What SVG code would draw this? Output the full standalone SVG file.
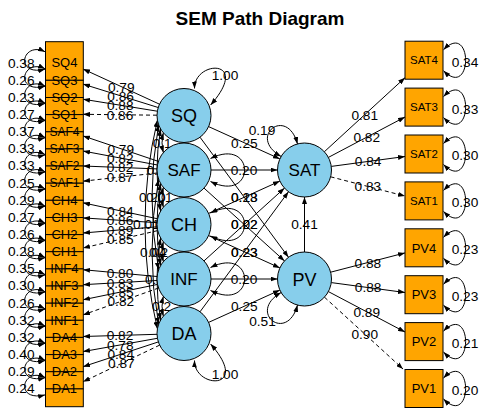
<svg xmlns="http://www.w3.org/2000/svg" width="485" height="413" viewBox="0 0 485 413">
<defs>
<marker id="ar" viewBox="0 0 7 5" refX="7" refY="2.5" markerWidth="7" markerHeight="5" markerUnits="userSpaceOnUse" orient="auto-start-reverse"><path d="M0,0 L7,2.5 L0,5 z" fill="#000"/></marker>
</defs>
<style>
.e{stroke:#000;stroke-width:1;fill:none;marker-end:url(#ar)}
.b{marker-start:url(#ar)}
.d{stroke-dasharray:4 3}
.t{font-family:'Liberation Sans',Arial,sans-serif;font-size:13.7px;fill:#000;text-anchor:middle}
.s{text-anchor:start}
.bx{fill:#FFA500;stroke:#000;stroke-width:1}
.lt{fill:#87CEEB;stroke:#000;stroke-width:1}
.nl{font-family:'Liberation Sans',Arial,sans-serif;fill:#000;text-anchor:middle}
</style>
<rect width="485" height="413" fill="#fff"/>
<text x="260" y="25" font-family="'Liberation Sans',Arial,sans-serif" font-size="19" font-weight="bold" text-anchor="middle">SEM Path Diagram</text>
<g id="connectors">
<!-- left residual loops -->
<path class="e b" d="M45,51.7 C22,40.7 14,76.7 45,69.2"/>
<path class="e b" d="M45,68.8 C22,57.8 14,93.8 45,86.3"/>
<path class="e b" d="M45,86 C22,75 14,111 45,103.5"/>
<path class="e b" d="M45,103.1 C22,92.1 14,128.1 45,120.6"/>
<path class="e b" d="M45,120.3 C22,109.3 14,145.3 45,137.8"/>
<path class="e b" d="M45,137.4 C22,126.4 14,162.4 45,154.9"/>
<path class="e b" d="M45,154.5 C22,143.5 14,179.5 45,172"/>
<path class="e b" d="M45,171.7 C22,160.7 14,196.7 45,189.2"/>
<path class="e b" d="M45,188.8 C22,177.8 14,213.8 45,206.3"/>
<path class="e b" d="M45,206 C22,195 14,231 45,223.5"/>
<path class="e b" d="M45,223.1 C22,212.1 14,248.1 45,240.6"/>
<path class="e b" d="M45,240.2 C22,229.2 14,265.2 45,257.7"/>
<path class="e b" d="M45,257.4 C22,246.4 14,282.4 45,274.9"/>
<path class="e b" d="M45,274.5 C22,263.5 14,299.5 45,292"/>
<path class="e b" d="M45,291.7 C22,280.7 14,316.7 45,309.2"/>
<path class="e b" d="M45,308.8 C22,297.8 14,333.8 45,326.3"/>
<path class="e b" d="M45,325.9 C22,314.9 14,350.9 45,343.4"/>
<path class="e b" d="M45,343.1 C22,332.1 14,368.1 45,360.6"/>
<path class="e b" d="M45,360.2 C22,349.2 14,385.2 45,377.7"/>
<path class="e b" d="M45,377.4 C22,366.4 14,402.4 45,394.9"/>
<g class="t">
<text x="21.2" y="67.6">0.38</text><text x="21.2" y="84.7">0.26</text><text x="21.2" y="101.9">0.23</text><text x="21.2" y="119">0.27</text>
<text x="21.2" y="136.2">0.37</text><text x="21.2" y="153.3">0.33</text><text x="21.2" y="170.4">0.33</text><text x="21.2" y="187.6">0.25</text>
<text x="21.2" y="204.7">0.29</text><text x="21.2" y="221.9">0.27</text><text x="21.2" y="239">0.26</text><text x="21.2" y="256.1">0.28</text>
<text x="21.2" y="273.3">0.35</text><text x="21.2" y="290.4">0.30</text><text x="21.2" y="307.6">0.26</text><text x="21.2" y="324.7">0.32</text>
<text x="21.2" y="341.8">0.32</text><text x="21.2" y="359">0.40</text><text x="21.2" y="376.1">0.29</text><text x="21.2" y="393.3">0.24</text>
</g>
<!-- left loadings -->
<path class="e" d="M159.5,104.2 L83,69"/>
<path class="e" d="M158.2,107.5 L83,84.1"/>
<path class="e" d="M157.3,111.2 L83,99.2"/>
<path class="e d" d="M157,115.2 L83,114.3"/>
<path class="e" d="M158.4,161.4 L83,135.9"/>
<path class="e" d="M157.5,165 L83,151"/>
<path class="e" d="M157,168.9 L83,166"/>
<path class="e d" d="M157.2,173 L83,181.2"/>
<path class="e" d="M157.6,218.8 L83,202.8"/>
<path class="e" d="M157.1,222.7 L83,217.9"/>
<path class="e" d="M157.1,226.8 L83,233"/>
<path class="e d" d="M157.7,230.6 L83,248"/>
<path class="e" d="M157.1,276.5 L83,269.7"/>
<path class="e" d="M157,280.5 L83,284.7"/>
<path class="e" d="M157.6,284.4 L83,299.8"/>
<path class="e d" d="M158.6,288 L83,314.9"/>
<path class="e" d="M157,334.3 L83,336.5"/>
<path class="e" d="M157.4,338.3 L83,351.6"/>
<path class="e" d="M158.4,341.9 L83,366.7"/>
<path class="e d" d="M159.7,345.1 L83,381.8"/>
<g class="t">
<text x="121.2" y="91.5">0.79</text><text x="120.6" y="100.7">0.86</text><text x="120.2" y="110.1">0.88</text><text x="120" y="119.6">0.86</text>
<text x="120.7" y="153.5">0.79</text><text x="120.2" y="162.9">0.82</text><text x="120" y="172.4">0.82</text><text x="120.1" y="182">0.87</text>
<text x="120.3" y="215.7">0.84</text><text x="120" y="225.2">0.86</text><text x="120" y="234.8">0.89</text><text x="120.3" y="244.2">0.85</text>
<text x="120" y="278">0.80</text><text x="120" y="287.5">0.83</text><text x="120.3" y="297">0.85</text><text x="120.8" y="306.4">0.82</text>
<text x="120" y="340.3">0.82</text><text x="120.2" y="349.9">0.78</text><text x="120.7" y="359.2">0.84</text><text x="121.3" y="368.3">0.87</text>
</g>
<!-- covariances among exogenous latents -->
<path class="e b" d="M163.3,132.9 Q160.7,142.75 163.3,152.6"/>
<path class="e b" d="M163.3,187.4 Q160.7,197.25 163.3,207.1"/>
<path class="e b" d="M163.3,241.9 Q160.7,251.75 163.3,261.6"/>
<path class="e b" d="M163.3,296.4 Q160.7,306.25 163.3,316.1"/>
<path class="e b" d="M160.6,129 Q153.4,170 160.6,211"/>
<path class="e b" d="M160.6,183.5 Q153.4,224.5 160.6,265.5"/>
<path class="e b" d="M160.6,238 Q153.4,279 160.6,320"/>
<path class="e b" d="M158.6,124.7 Q145.4,197.25 158.6,269.8"/>
<path class="e b" d="M158.6,179.2 Q145.4,251.75 158.6,324.3"/>
<path class="e b" d="M157.4,120.2 Q132.6,224.5 157.4,328.8"/>
<g class="t s">
<text x="152.7" y="148">0.1</text>
<text x="146.5" y="175">0.</text>
<text x="139" y="202.2">0.20</text>
<text x="146" y="202.2">0.01</text>
<text x="133" y="229.4">0.01</text>
<text x="140" y="256.7">0.04</text>
<text x="149" y="256.7">0.2</text>
<text x="145" y="283.9">0.</text>
<text x="152" y="311.1">0.2</text>
</g>
<!-- latent variance loops -->
<path class="e b" d="M194.5,88.5 C194,60 252,58 210.6,105"/>
<path class="e b" d="M194.5,360.5 C194,389 252,391 210.6,344"/>
<path class="e b" d="M210.5,158.5 C256,136 256,204 210.5,181.5"/>
<path class="e b" d="M210.5,213 C256,190.5 256,258.5 210.5,236"/>
<path class="e b" d="M210.5,267.5 C256,245 256,313 210.5,290.5"/>
<!-- structural paths -->
<path class="e" d="M208.6,126.6 L279.9,158.9"/>
<path class="e" d="M211,170 L277.5,170"/>
<path class="e" d="M208.6,213.4 L279.9,181.1"/>
<path class="e" d="M204,260.9 L284.5,188.1"/>
<path class="e" d="M200,311.8 L288.5,191.7"/>
<path class="e" d="M200,137.2 L288.5,257.3"/>
<path class="e" d="M204,188.1 L284.5,260.9"/>
<path class="e" d="M208.6,235.6 L279.9,267.9"/>
<path class="e" d="M211,279 L277.5,279"/>
<path class="e" d="M208.6,322.4 L279.9,290.1"/>
<path class="e" d="M304.5,252 L304.5,197"/>
<!-- endogenous residual loops -->
<path class="e b" d="M297.5,143.9 C287.1,105.3 246.5,136.5 281.1,156.5"/>
<path class="e b" d="M297.5,305.1 C287.1,343.7 246.5,312.5 281.1,292.5"/>
<g class="t">
<text x="225" y="79.9">1.00</text>
<text x="225" y="378.9">1.00</text>
<text x="244.3" y="147.7">0.25</text>
<text x="244" y="174.9">0.20</text>
<text x="244.3" y="202.2">0.28</text>
<text x="244.3" y="229.4">0.02</text>
<text x="244.3" y="256.7">0.23</text>
<text x="244.3" y="202.2">0.13</text>
<text x="244.3" y="229.4">0.22</text>
<text x="244.3" y="256.7">0.23</text>
<text x="244" y="283.9">0.20</text>
<text x="244.3" y="311.1">0.25</text>
<text x="304.5" y="229.4">0.41</text>
<text x="262" y="134.9">0.19</text>
<text x="262.5" y="326">0.51</text>
</g>
<!-- right loadings -->
<path class="e" d="M324.4,151.7 L405,77.7"/>
<path class="e" d="M328.4,157.4 L405,117"/>
<path class="e" d="M331.3,166.4 L405,156.5"/>
<path class="e d" d="M330.6,176.8 L405,196.1"/>
<path class="e" d="M330.6,272.2 L405,252.9"/>
<path class="e" d="M331.3,282.6 L405,292.5"/>
<path class="e" d="M328.4,291.6 L405,332"/>
<path class="e d" d="M324.5,297.2 L403,369"/>
<g class="t">
<text x="364.7" y="119.5">0.81</text><text x="366.7" y="142.1">0.82</text><text x="368.1" y="166.3">0.84</text><text x="367.8" y="191.4">0.83</text>
<text x="367.8" y="267.5">0.88</text><text x="368.1" y="292.4">0.88</text><text x="366.7" y="316.7">0.89</text><text x="364.7" y="338.9">0.90</text>
</g>
<!-- right residual loops -->
<path class="e b" d="M443.5,49.7 C473,20.2 473,100.2 443.5,70.7"/>
<path class="e b" d="M443.5,96.6 C473,67.1 473,147.1 443.5,117.6"/>
<path class="e b" d="M443.5,143.5 C473,114 473,194 443.5,164.5"/>
<path class="e b" d="M443.5,190.4 C473,160.9 473,240.9 443.5,211.4"/>
<path class="e b" d="M443.5,237.3 C473,207.8 473,287.8 443.5,258.3"/>
<path class="e b" d="M443.5,284.2 C473,254.7 473,334.7 443.5,305.2"/>
<path class="e b" d="M443.5,331.1 C473,301.6 473,381.6 443.5,352.1"/>
<path class="e b" d="M443.5,378 C473,348.5 473,428.5 443.5,399"/>
<g class="t">
<text x="465" y="66.6">0.34</text><text x="465" y="113.5">0.33</text><text x="465" y="160.4">0.30</text><text x="465" y="207.3">0.30</text>
<text x="465" y="254.2">0.23</text><text x="465" y="301.1">0.23</text><text x="465" y="348">0.21</text><text x="465" y="394.9">0.20</text>
</g>
</g>
<!-- left indicator nodes -->
<g id="SQ4"><rect class="bx" x="45.5" y="41.7" width="37.8" height="38.6"/><text class="nl" x="64.4" y="67.4" font-size="13">SQ4</text></g>
<g id="SQ3"><rect class="bx" x="45.5" y="80.3" width="37.8" height="17.2"/><text class="nl" x="64.4" y="84.5" font-size="13">SQ3</text></g>
<g id="SQ2"><rect class="bx" x="45.5" y="97.5" width="37.8" height="17.1"/><text class="nl" x="64.4" y="101.7" font-size="13">SQ2</text></g>
<g id="SQ1"><rect class="bx" x="45.5" y="114.6" width="37.8" height="17.2"/><text class="nl" x="64.4" y="118.8" font-size="13">SQ1</text></g>
<g id="SAF4"><rect class="bx" x="45.5" y="131.8" width="37.8" height="17.1"/><text class="nl" x="64.4" y="136" font-size="12">SAF4</text></g>
<g id="SAF3"><rect class="bx" x="45.5" y="148.9" width="37.8" height="17.1"/><text class="nl" x="64.4" y="153.1" font-size="12">SAF3</text></g>
<g id="SAF2"><rect class="bx" x="45.5" y="166" width="37.8" height="17.2"/><text class="nl" x="64.4" y="170.2" font-size="12">SAF2</text></g>
<g id="SAF1"><rect class="bx" x="45.5" y="183.2" width="37.8" height="17.1"/><text class="nl" x="64.4" y="187.4" font-size="12">SAF1</text></g>
<g id="CH4"><rect class="bx" x="45.5" y="200.3" width="37.8" height="17.2"/><text class="nl" x="64.4" y="204.5" font-size="13">CH4</text></g>
<g id="CH3"><rect class="bx" x="45.5" y="217.5" width="37.8" height="17.1"/><text class="nl" x="64.4" y="221.7" font-size="13">CH3</text></g>
<g id="CH2"><rect class="bx" x="45.5" y="234.6" width="37.8" height="17.1"/><text class="nl" x="64.4" y="238.8" font-size="13">CH2</text></g>
<g id="CH1"><rect class="bx" x="45.5" y="251.7" width="37.8" height="17.2"/><text class="nl" x="64.4" y="255.9" font-size="13">CH1</text></g>
<g id="INF4"><rect class="bx" x="45.5" y="268.9" width="37.8" height="17.1"/><text class="nl" x="64.4" y="273.1" font-size="13">INF4</text></g>
<g id="INF3"><rect class="bx" x="45.5" y="286" width="37.8" height="17.2"/><text class="nl" x="64.4" y="290.2" font-size="13">INF3</text></g>
<g id="INF2"><rect class="bx" x="45.5" y="303.2" width="37.8" height="17.1"/><text class="nl" x="64.4" y="307.4" font-size="13">INF2</text></g>
<g id="INF1"><rect class="bx" x="45.5" y="320.3" width="37.8" height="17.1"/><text class="nl" x="64.4" y="324.5" font-size="13">INF1</text></g>
<g id="DA4"><rect class="bx" x="45.5" y="337.4" width="37.8" height="17.2"/><text class="nl" x="64.4" y="341.6" font-size="13">DA4</text></g>
<g id="DA3"><rect class="bx" x="45.5" y="354.6" width="37.8" height="17.1"/><text class="nl" x="64.4" y="358.8" font-size="13">DA3</text></g>
<g id="DA2"><rect class="bx" x="45.5" y="371.7" width="37.8" height="17.2"/><text class="nl" x="64.4" y="375.9" font-size="13">DA2</text></g>
<g id="DA1"><rect class="bx" x="45.5" y="388.9" width="37.8" height="17.8"/><text class="nl" x="64.4" y="393.1" font-size="13">DA1</text></g>
<!-- latent nodes -->
<g id="SQ"><circle class="lt" cx="184" cy="115.5" r="27"/><text class="nl" x="184" y="122" font-size="18">SQ</text></g>
<g id="SAF"><circle class="lt" cx="184" cy="170" r="27"/><text class="nl" x="184" y="176.2" font-size="17">SAF</text></g>
<g id="CH"><circle class="lt" cx="184" cy="224.5" r="27"/><text class="nl" x="184" y="231" font-size="18">CH</text></g>
<g id="INF"><circle class="lt" cx="184" cy="279" r="27"/><text class="nl" x="184" y="285.2" font-size="17">INF</text></g>
<g id="DA"><circle class="lt" cx="184" cy="333.5" r="27"/><text class="nl" x="184" y="340" font-size="18">DA</text></g>
<g id="SAT"><circle class="lt" cx="304.5" cy="170" r="27"/><text class="nl" x="304.5" y="176.2" font-size="17">SAT</text></g>
<g id="PV"><circle class="lt" cx="304.5" cy="279" r="27"/><text class="nl" x="304.5" y="285.5" font-size="18">PV</text></g>
<!-- right indicator nodes -->
<g id="SAT4"><rect class="bx" x="405" y="41.2" width="38" height="38"/><text class="nl" x="424" y="64.3" font-size="11.5">SAT4</text></g>
<g id="SAT3"><rect class="bx" x="405" y="88.1" width="38" height="38"/><text class="nl" x="424" y="111.2" font-size="11.5">SAT3</text></g>
<g id="SAT2"><rect class="bx" x="405" y="135" width="38" height="38"/><text class="nl" x="424" y="158.1" font-size="11.5">SAT2</text></g>
<g id="SAT1"><rect class="bx" x="405" y="181.9" width="38" height="38"/><text class="nl" x="424" y="205" font-size="11.5">SAT1</text></g>
<g id="PV4"><rect class="bx" x="405" y="228.8" width="38" height="38"/><text class="nl" x="424" y="252.5" font-size="13">PV4</text></g>
<g id="PV3"><rect class="bx" x="405" y="275.7" width="38" height="38"/><text class="nl" x="424" y="299.4" font-size="13">PV3</text></g>
<g id="PV2"><rect class="bx" x="405" y="322.6" width="38" height="38"/><text class="nl" x="424" y="346.3" font-size="13">PV2</text></g>
<g id="PV1"><rect class="bx" x="405" y="369.5" width="38" height="38"/><text class="nl" x="424" y="393.2" font-size="13">PV1</text></g>
</svg>
